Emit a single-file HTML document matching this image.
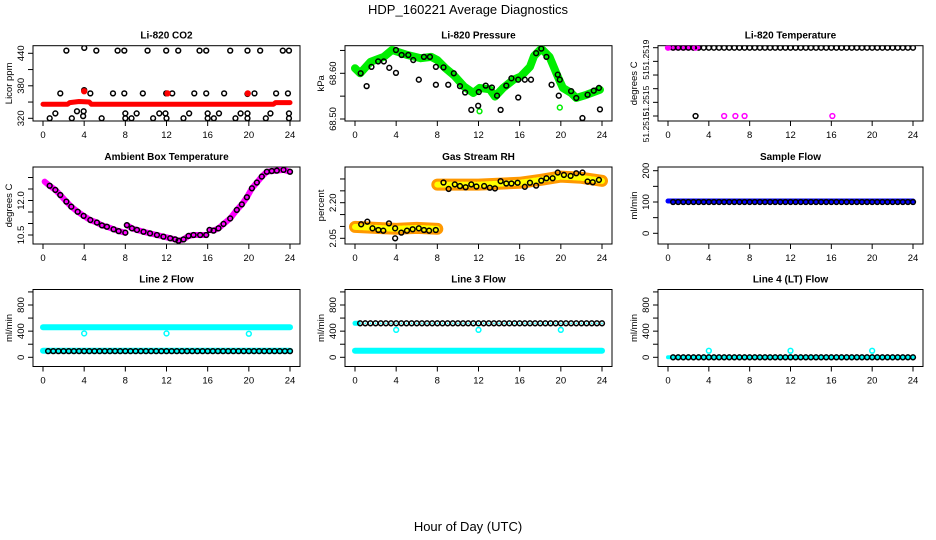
<!DOCTYPE html>
<html><head><meta charset="utf-8"><style>
html,body{margin:0;padding:0;background:#fff}
svg{display:block;font-family:"Liberation Sans",sans-serif}
</style></head><body>
<svg id="c" width="936" height="540" viewBox="0 0 936 540">
<text x="468" y="14" text-anchor="middle" font-size="13">HDP_160221  Average Diagnostics</text>
<text x="468" y="531" text-anchor="middle" font-size="13">Hour of Day (UTC)</text>
</svg>
<script>
// ---- data ----
const xTicks=[0,4,8,12,16,20,24];
const co2TopH=[2.27,4.01,5.18,7.25,7.9,10.16,11.97,13.14,15.21,15.86,18.19,19.87,21.1,23.3,23.9];
const co2TopV=[445,450,445,445,445,445,445,445,445,445,445,445,445,445,445];
const co2MidH=[1.68,4.6,6.8,7.9,9.7,11.97,12.56,14.7,15.86,17.6,19.87,20.55,22.65,23.8,4.0];
const co2MidV=[366,366,366,366,366,366,366,366,366,366,365,366,366,366,372];
const co2LowH=[1.2,3.3,3.95,8.0,9.1,11.3,11.9,14.2,16.0,17.1,19.2,19.87,22.1,23.9,0.65,2.8,3.9,5.7,8.0,8.6,10.7,12.0,13.65,16.0,16.6,18.7,19.87,21.65,23.9];
const co2LowV=[329,333,333,329,329,329,329,329,329,329,329,329,329,329,320,320,324,320,320,320,320,320,320,320,320,320,320,320,320];
const co2BandH=[0,2.4,2.6,3.5,4.5,4.7,22.4,22.6,24];
const co2BandV=[346,346,349,351,350,346,346,349,349];
const co2RedH=[4.0,12.1,19.9];
const co2RedV=[370,366,366];

const presBandH=[0,0.5,1.5,2.8,3.6,5.1,6.4,7.4,8.0,8.8,9.6,10.6,11.5,12.1,13.1,13.6,14.4,15.4,16.1,17.0,17.4,18.1,18.9,19.7,20.2,21.0,21.5,22.5,23.8];
const presBandV=[68.611,68.6,68.625,68.636,68.651,68.640,68.633,68.636,68.629,68.611,68.596,68.571,68.557,68.568,68.565,68.549,68.568,68.586,68.593,68.614,68.638,68.654,68.636,68.593,68.568,68.557,68.546,68.553,68.564];
const presPtH=[0.55,1.13,1.6,2.25,2.8,3.33,3.98,3.98,4.53,5.18,5.66,6.2,6.7,7.28,7.86,7.86,8.6,9.06,9.6,10.2,10.7,11.3,11.97,12.03,12.7,13.3,13.8,14.15,14.7,15.2,15.86,15.86,16.5,17.1,17.6,18.1,18.6,19.1,19.7,19.8,19.9,21.0,21.5,22.1,22.6,23.2,23.7,23.8];
const presPtV=[68.600,68.572,68.614,68.626,68.626,68.612,68.651,68.601,68.640,68.640,68.629,68.586,68.636,68.636,68.614,68.575,68.613,68.575,68.600,68.572,68.558,68.520,68.529,68.559,68.573,68.569,68.551,68.520,68.573,68.589,68.547,68.586,68.586,68.586,68.644,68.654,68.636,68.575,68.597,68.551,68.586,68.561,68.546,68.502,68.553,68.562,68.568,68.521];
const presGreenH=[12.1,19.9];
const presGreenV=[68.517,68.525];

const tempTopHstart=0, tempTopHend=24;
const tempTopV=51.25190;
const tempLowH=[2.7,5.5,6.6,7.5,16.1];
const tempLowV=[51.25150,51.25150,51.25150,51.25150,51.25150];
const tempLowCol=["#000","#f0f","#f0f","#f0f","#f0f"];

const ambH=[0.16,0.65,1.2,1.68,2.27,2.75,3.37,3.95,4.6,5.24,5.73,6.21,6.86,7.35,8.0,8.15,8.64,9.13,9.77,10.4,11.07,11.7,12.36,12.85,13.17,13.66,14.14,14.63,15.27,15.86,16.18,16.57,17.05,17.54,18.19,18.83,19.32,19.81,20.3,20.78,21.26,21.75,22.23,22.72,23.37,24.0];
const ambV=[12.82,12.64,12.46,12.24,11.95,11.73,11.51,11.33,11.15,11.04,10.92,10.86,10.75,10.67,10.60,10.93,10.79,10.72,10.64,10.57,10.50,10.43,10.36,10.31,10.25,10.31,10.46,10.50,10.50,10.50,10.72,10.69,10.79,10.98,11.22,11.59,11.83,12.14,12.53,12.78,13.04,13.25,13.28,13.30,13.33,13.25];

const rhLowH=[0.6,1.2,1.7,2.27,2.75,3.3,3.9,3.9,4.5,5.05,5.6,6.2,6.7,7.2,7.85];
const rhLowV=[2.109,2.120,2.092,2.085,2.082,2.113,2.092,2.050,2.074,2.082,2.088,2.092,2.085,2.082,2.085];
const rhHighH=[8.6,9.1,9.7,10.2,10.75,11.3,11.8,12.55,13.1,13.6,14.15,14.7,15.2,15.8,16.5,17.0,17.6,18.1,18.6,19.2,19.7,20.3,20.95,21.5,22.1,22.6,23.1,23.7];
const rhHighV=[2.285,2.258,2.277,2.270,2.265,2.277,2.268,2.270,2.263,2.260,2.291,2.281,2.281,2.284,2.267,2.284,2.272,2.293,2.303,2.303,2.327,2.317,2.313,2.324,2.327,2.289,2.286,2.296];
const rhBandLowH=[0,2,4,6,8];
const rhBandLowV=[2.098,2.094,2.090,2.094,2.090];
const rhBandHighH=[8,12,16,18,20,22,24];
const rhBandHighV=[2.276,2.276,2.284,2.296,2.310,2.305,2.292];

const flowH=[0.5,1,1.5,2,2.5,3,3.5,4,4.5,5,5.5,6,6.5,7,7.5,8,8.5,9,9.5,10,10.5,11,11.5,12,12.5,13,13.5,14,14.5,15,15.5,16,16.5,17,17.5,18,18.5,19,19.5,20,20.5,21,21.5,22,22.5,23,23.5,24];
const sampleBand=103, sampleBlack=100;
const l2BandHi=460, l2BandLo=100, l2Black=95, l2OutH=[4,12,20], l2OutV=[365,365,360];
const l3BandLo=100, l3Black=520, l3OutH=[4,12,20], l3OutV=[420,420,420];
const l4Band=0, l4Black=0, l4OutH=[4,12,20], l4OutV=[100,100,100];

// ---- drawing ----
const svg=document.getElementById('c');
const NS='http://www.w3.org/2000/svg';
function mk(tag,attrs,parent){const e=document.createElementNS(NS,tag);for(const k in attrs)e.setAttribute(k,attrs[k]);(parent||svg).appendChild(e);return e;}
const cols=[{l:33,r:300,x0:43,x24:290},{l:345,r:612,x0:355,x24:602},{l:658,r:923,x0:668,x24:913}];
const rows=[{t:45.7,b:121},{t:167,b:244},{t:289.5,b:366.5}];

function panel(ci,ri,title,ylab,v1,p1,v2,p2,yticks,ylabels,name){
  const c=cols[ci],r=rows[ri];
  const g=mk('g',{});
  
  
  const X=h=>c.x0+(c.x24-c.x0)*h/24;
  const Y=v=>p1+(p2-p1)*(v-v1)/(v2-v1);
  const t=mk('text',{x:(c.l+c.r)/2,y:r.t-7,'text-anchor':'middle','font-size':'10','font-weight':'bold'},g);
  t.textContent=title;
  
  
  const box=mk('rect',{x:c.l,y:r.t,width:c.r-c.l,height:r.b-r.t,fill:'none',stroke:'#000','stroke-width':1},g);
  
  
  const xa=mk('g',{},g);
  
  
  xTicks.forEach(h=>{mk('line',{x1:X(h),x2:X(h),y1:r.b,y2:r.b+5,stroke:'#000'},xa);
    const tl=mk('text',{x:X(h),y:r.b+17,'text-anchor':'middle','font-size':'9.5'},xa);tl.textContent=h;});
  const ya=mk('g',{},g);
  
  
  yticks.forEach(v=>mk('line',{x1:c.l-5,x2:c.l,y1:Y(v),y2:Y(v),stroke:'#000'},ya));
  ylabels.forEach(l=>{const yy=l.y!==undefined?l.y:Y(l.v);
    const tl=mk('text',{x:0,y:0,transform:`translate(${c.l-9},${yy}) rotate(-90)`,'text-anchor':'middle','font-size':l.fs||'9.5'},ya);tl.textContent=l.t;});
  const yl=mk('text',{x:0,y:0,transform:`translate(${c.l-21},${(r.t+r.b)/2}) rotate(-90)`,'text-anchor':'middle','font-size':'9.5'},g);
  yl.textContent=ylab;
  
  
  const clip=mk('clipPath',{id:'cl'+name},g);
  mk('rect',{x:c.l,y:r.t,width:c.r-c.l,height:r.b-r.t},clip);
  const d=mk('g',{'clip-path':`url(#cl${name})`},g);
  
  
  return {X,Y,d};
}
function band(p,hs,vs,col,w,nm){
  const pl=mk('polyline',{points:hs.map((h,i)=>p.X(h)+','+p.Y(vs[i])).join(' '),fill:'none',stroke:col,'stroke-width':w,'stroke-linejoin':'round','stroke-linecap':'round'},p.d);
  
  
  return pl;
}
function pts(p,hs,vs,col,nm,fill){
  const g=mk('g',{},p.d);
  
  
  hs.forEach((h,i)=>{const cc=Array.isArray(col)?col[i]:col;
    mk('circle',{cx:p.X(h),cy:p.Y(vs[i]),r:2.4,fill:fill||'none',stroke:cc,'stroke-width':1.5},g);});
}
function dots(p,hs,vs,nm){
  const g=mk('g',{},p.d);
  
  
  hs.forEach((h,i)=>mk('circle',{cx:p.X(h),cy:p.Y(vs[i]),r:0.8,fill:'#0ff'},g));
}

// Panel 1: CO2
let p=panel(0,0,'Li-820 CO2','Licor ppm',320,118.3,440,53.3,[320,350,380,410,440],[{v:320,t:'320'},{v:380,t:'380'},{v:440,t:'440'}],'co2');
band(p,co2BandH,co2BandV,'#f00',5,'co2-band');
pts(p,co2TopH,co2TopV,'#000','co2-high-points');
pts(p,co2MidH,co2MidV,'#000','co2-mid-points');
pts(p,co2LowH,co2LowV,'#000','co2-low-points');
pts(p,co2RedH,co2RedV,'#f00','co2-red-points','#f00');

// Panel 2: Pressure
p=panel(1,0,'Li-820 Pressure','kPa',68.50,119,68.60,73.3,[68.50,68.55,68.60,68.65],[{v:68.50,t:'68.50'},{v:68.60,t:'68.60'}],'pressure');
band(p,presBandH,presBandV,'#0e0',8,'pressure-band');
pts(p,presGreenH,presGreenV,'#0e0','pressure-green-points');
pts(p,presPtH,presPtV,'#000','pressure-points');

// Panel 3: Li-820 Temperature
p=panel(2,0,'Li-820 Temperature','degrees C',51.25150,116,51.25190,47.7,[51.25150,51.25158,51.25166,51.25174,51.25182,51.25190],[{y:55,t:'51.2519',fs:'8.5'},{y:75,t:'51',fs:'8.5'},{y:101,t:'51.2515',fs:'8.5'},{y:127,t:'51.2515',fs:'8.5'}],'li820-temp');
band(p,[tempTopHstart,3],[tempTopV,tempTopV],'#f0f',5,'li820-temp-band');
pts(p,flowH,flowH.map(()=>tempTopV),'#000','li820-temp-top-points');
pts(p,[0,2.7],[tempTopV,tempTopV],'#f0f','li820-temp-magenta-top');
pts(p,tempLowH,tempLowV,tempLowCol,'li820-temp-low-points');

// Panel 4: Ambient Box Temperature
p=panel(0,1,'Ambient Box Temperature','degrees C',10.5,235,12.0,200.5,[10.5,11.0,11.5,12.0,12.5,13.0],[{v:10.5,t:'10.5'},{v:12.0,t:'12.0'}],'ambient-temp');
band(p,ambH.slice(0,15),ambV.slice(0,15),'#f0f',6,'ambient-band-a');
band(p,ambH.slice(15,30),ambV.slice(15,30),'#f0f',6,'ambient-band-b');
band(p,ambH.slice(30),ambV.slice(30),'#f0f',6,'ambient-band-c');
pts(p,ambH.slice(1),ambV.slice(1),'#000','ambient-points');

// Panel 5: Gas Stream RH
p=panel(1,1,'Gas Stream RH','percent',2.05,238.3,2.20,202.7,[2.05,2.10,2.15,2.20,2.25,2.30],[{v:2.05,t:'2.05'},{v:2.20,t:'2.20'}],'rh');
band(p,rhBandLowH,rhBandLowV,'#f90',12,'rh-band-low');
band(p,rhBandLowH,rhBandLowV,'#ff0',6,'rh-band-low-inner').setAttribute('stroke-dasharray','2 2');
band(p,rhBandHighH,rhBandHighV,'#f90',12,'rh-band-high');
band(p,rhBandHighH,rhBandHighV,'#ff0',6,'rh-band-high-inner').setAttribute('stroke-dasharray','2 2');
pts(p,rhLowH,rhLowV,'#000','rh-low-points');
pts(p,rhHighH,rhHighV,'#000','rh-high-points');

// Panel 6: Sample Flow
p=panel(2,1,'Sample Flow','ml/min',0,233.3,200,170.7,[0,50,100,150,200],[{v:0,t:'0'},{v:100,t:'100'},{v:200,t:'200'}],'sample-flow');
band(p,[0,24],[sampleBand,sampleBand],'#00f',5,'sample-flow-band');
pts(p,flowH,flowH.map(()=>sampleBlack),'#000','sample-flow-points');

// Row 3 flows
const fT=[0,200,400,600,800,1000], fL=[{v:0,t:'0'},{v:400,t:'400'},{v:800,t:'800'}];
p=panel(0,2,'Line 2 Flow','ml/min',0,357.3,800,305,fT,fL,'line2');
band(p,[0,24],[l2BandHi,l2BandHi],'#0ff',6,'line2-band-high');
band(p,[0,24],[l2BandLo,l2BandLo],'#0ff',6,'line2-band-low');
pts(p,flowH,flowH.map(()=>l2Black),'#000','line2-points');
dots(p,flowH,flowH.map(()=>l2Black),'line2-point-centers');
pts(p,l2OutH,l2OutV,'#0ff','line2-outliers');

p=panel(1,2,'Line 3 Flow','ml/min',0,357.3,800,305,fT,fL,'line3');
band(p,[0,24],[l3BandLo,l3BandLo],'#0ff',6,'line3-band-low');
band(p,[0,0.3],[l3Black,l3Black],'#0ff',5,'line3-band-start');
pts(p,flowH,flowH.map(()=>l3Black),'#000','line3-points');
dots(p,flowH,flowH.map(()=>l3Black),'line3-point-centers');
pts(p,l3OutH,l3OutV,'#0ff','line3-outliers');

p=panel(2,2,'Line 4 (LT) Flow','ml/min',0,357.3,800,305,fT,fL,'line4');
band(p,[0,24],[l4Band,l4Band],'#0ff',4,'line4-band');
pts(p,flowH,flowH.map(()=>l4Black),'#000','line4-points');
dots(p,flowH,flowH.map(()=>l4Black),'line4-point-centers');
pts(p,l4OutH,l4OutV,'#0ff','line4-outliers');
</script>
</body></html>
